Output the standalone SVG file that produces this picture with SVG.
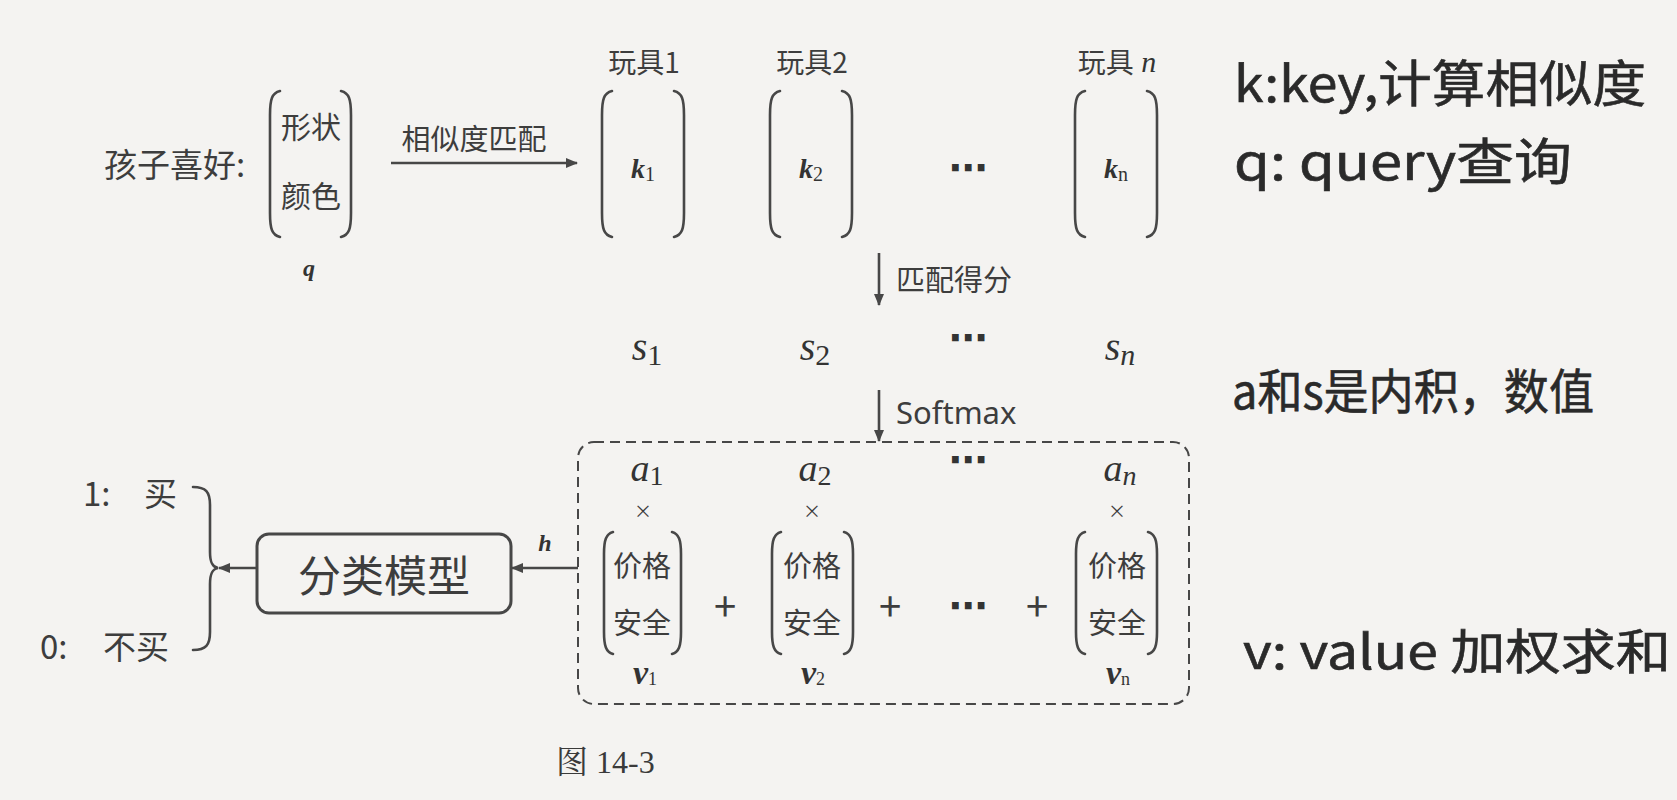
<svg xmlns="http://www.w3.org/2000/svg" width="1677" height="800" viewBox="0 0 1677 800">
<style>
.t{font-family:"Noto Sans CJK SC","Noto Sans",sans-serif;fill:#3d3d3d}
.m{font-family:"Liberation Serif",serif;font-style:italic;fill:#333}
.mb{font-family:"Liberation Serif",serif;font-style:italic;font-weight:bold;fill:#333}
.sub{font-style:normal;font-weight:normal}
.dots{font-family:"DejaVu Sans",sans-serif;fill:#333;font-weight:bold}
.br{fill:none;stroke:#474747;stroke-width:2.6;stroke-linecap:round}
.ln{fill:none;stroke:#474747;stroke-width:2.6}
.hw{font-family:"Noto Sans CJK SC",sans-serif;fill:#2a2a2a;stroke:#2a2a2a;stroke-width:0.6}
text{dominant-baseline:central}
</style>
<defs>
<marker id="ah" markerWidth="12" markerHeight="10" refX="11" refY="5" orient="auto" markerUnits="userSpaceOnUse">
<path d="M0,0 L12,5 L0,10 z" fill="#474747"/>
</marker>
</defs>
<rect width="1677" height="800" fill="#f4f3f1"/>

<g id="query">
<text class="t" x="104" y="163" font-size="33">孩子喜好:</text>
<path class="br" d="M280,91 C272,93 270,99 270,115 V213 C270,229 272,235 280,237"/>
<path class="br" d="M341,91 C349,93 351,99 351,115 V213 C351,229 349,235 341,237"/>
<text class="t" x="311" y="125" font-size="30" text-anchor="middle">形状</text>
<text class="t" x="311" y="194" font-size="30" text-anchor="middle">颜色</text>
<text class="mb" x="309" y="268" font-size="24" text-anchor="middle">q</text>
</g>

<g id="toy1">
<text class="t" x="644" y="61" font-size="28" text-anchor="middle">玩具1</text>
<path class="br" d="M612,91 C604,93 602,99 602,115 V213 C602,229 604,235 612,237"/>
<path class="br" d="M674,91 C682,93 684,99 684,115 V213 C684,229 682,235 674,237"/>
<text class="mb" x="643" y="168" font-size="28" text-anchor="middle">k<tspan class="sub" font-size="20" dy="6">1</tspan></text>
</g>
<g id="toy2">
<text class="t" x="812" y="61" font-size="28" text-anchor="middle">玩具2</text>
<path class="br" d="M780,91 C772,93 770,99 770,115 V213 C770,229 772,235 780,237"/>
<path class="br" d="M842,91 C850,93 852,99 852,115 V213 C852,229 850,235 842,237"/>
<text class="mb" x="811" y="168" font-size="28" text-anchor="middle">k<tspan class="sub" font-size="20" dy="6">2</tspan></text>
</g>
<text class="dots" x="968" y="168" font-size="38" text-anchor="middle">⋯</text>
<g id="toyn">
<text class="t" x="1117" y="61" font-size="28" text-anchor="middle">玩具<tspan class="m" font-size="30"> n</tspan></text>
<path class="br" d="M1085,91 C1077,93 1075,99 1075,115 V213 C1075,229 1077,235 1085,237"/>
<path class="br" d="M1147,91 C1155,93 1157,99 1157,115 V213 C1157,229 1155,235 1147,237"/>
<text class="mb" x="1116" y="168" font-size="28" text-anchor="middle">k<tspan class="sub" font-size="20" dy="6">n</tspan></text>
</g>

<g id="scores">
<text class="m" x="647" y="346" font-size="40" text-anchor="middle">s<tspan class="sub" font-size="30" dy="8">1</tspan></text>
<text class="m" x="815" y="346" font-size="40" text-anchor="middle">s<tspan class="sub" font-size="30" dy="8">2</tspan></text>
<text class="dots" x="968" y="338" font-size="38" text-anchor="middle">⋯</text>
<text class="m" x="1120" y="346" font-size="40" text-anchor="middle">s<tspan font-size="30" dy="8">n</tspan></text>
</g>

<g id="weighted">
<rect x="578" y="442" width="611" height="262" rx="16" fill="none" stroke="#474747" stroke-width="2" stroke-dasharray="10,6"/>
<text class="m" x="647" y="468" font-size="38" text-anchor="middle">a<tspan class="sub" font-size="28" dy="7">1</tspan></text>
<text class="m" x="815" y="468" font-size="38" text-anchor="middle">a<tspan class="sub" font-size="28" dy="7">2</tspan></text>
<text class="dots" x="968" y="460" font-size="38" text-anchor="middle">⋯</text>
<text class="m" x="1120" y="468" font-size="38" text-anchor="middle">a<tspan font-size="28" dy="7">n</tspan></text>
<text class="t" x="643" y="510" font-size="18" text-anchor="middle">×</text>
<text class="t" x="812" y="510" font-size="18" text-anchor="middle">×</text>
<text class="t" x="1117" y="510" font-size="18" text-anchor="middle">×</text>
<path class="br" d="M613,532 C606,534 604,540 604,554 V632 C604,646 606,652 613,654"/>
<path class="br" d="M672,532 C679,534 681,540 681,554 V632 C681,646 679,652 672,654"/>
<text class="t" x="642" y="564" font-size="29" text-anchor="middle">价格</text>
<text class="t" x="642" y="621" font-size="29" text-anchor="middle">安全</text>
<path class="br" d="M781,532 C774,534 772,540 772,554 V632 C772,646 774,652 781,654"/>
<path class="br" d="M844,532 C851,534 853,540 853,554 V632 C853,646 851,652 844,654"/>
<text class="t" x="812" y="564" font-size="29" text-anchor="middle">价格</text>
<text class="t" x="812" y="621" font-size="29" text-anchor="middle">安全</text>
<path class="br" d="M1085,532 C1078,534 1076,540 1076,554 V632 C1076,646 1078,652 1085,654"/>
<path class="br" d="M1148,532 C1155,534 1157,540 1157,554 V632 C1157,646 1155,652 1148,654"/>
<text class="t" x="1117" y="564" font-size="29" text-anchor="middle">价格</text>
<text class="t" x="1117" y="621" font-size="29" text-anchor="middle">安全</text>
<text class="t" x="725" y="604" font-size="40" text-anchor="middle">+</text>
<text class="t" x="890" y="604" font-size="40" text-anchor="middle">+</text>
<text class="dots" x="968" y="606" font-size="38" text-anchor="middle">⋯</text>
<text class="t" x="1037" y="604" font-size="40" text-anchor="middle">+</text>
<text class="mb" x="645" y="672" font-size="34" text-anchor="middle">v<tspan class="sub" font-size="18" dy="7">1</tspan></text>
<text class="mb" x="813" y="672" font-size="34" text-anchor="middle">v<tspan class="sub" font-size="18" dy="7">2</tspan></text>
<text class="mb" x="1118" y="672" font-size="34" text-anchor="middle">v<tspan class="sub" font-size="18" dy="7">n</tspan></text>
</g>

<g id="classifier">
<rect x="257" y="534" width="254" height="79" rx="12" fill="none" stroke="#474747" stroke-width="3"/>
<text class="t" x="384" y="573" font-size="43" text-anchor="middle">分类模型</text>
</g>

<g id="outputs">
<text class="t" font-size="33" y="492"><tspan x="83">1:</tspan><tspan x="144">买</tspan></text>
<text class="t" font-size="33" y="645"><tspan x="40">0:</tspan><tspan x="103">不买</tspan></text>
<path class="br" d="M193,487 C206,487 210,492 210,505 V552 C210,562 212,567 218,568 C212,569 210,574 210,584 V632 C210,645 206,650 193,650"/>
</g>

<g id="connectors">
<line class="ln" x1="391" y1="163" x2="577" y2="163" stroke-width="3" marker-end="url(#ah)"/>
<text class="t" x="474" y="137" font-size="29" text-anchor="middle">相似度匹配</text>
<line class="ln" x1="879" y1="253" x2="879" y2="305" marker-end="url(#ah)"/>
<text class="t" x="896" y="278" font-size="29">匹配得分</text>
<line class="ln" x1="879" y1="390" x2="879" y2="441" marker-end="url(#ah)"/>
<text x="896" y="412" font-size="31" font-family="'Noto Sans',sans-serif" fill="#3d3d3d">Softmax</text>
<line class="ln" x1="578" y1="568" x2="512" y2="568" stroke-width="3" marker-end="url(#ah)"/>
<text class="mb" x="545" y="543" font-size="24" text-anchor="middle">h</text>
<line class="ln" x1="257" y1="568" x2="219" y2="568" stroke-width="3" marker-end="url(#ah)"/>
</g>

<text x="556" y="762" font-size="32" font-family="'Liberation Serif','Noto Serif CJK SC','Noto Sans CJK SC',serif" fill="#3a3a3a">图 14-3</text>

<g id="notes">
<text class="hw" x="1234" y="80" font-size="50" textLength="412" lengthAdjust="spacingAndGlyphs">k:key,计算相似度</text>
<text class="hw" x="1234" y="158" font-size="50" textLength="338" lengthAdjust="spacingAndGlyphs">q: query查询</text>
<text class="hw" x="1232" y="388" font-size="48" textLength="362" lengthAdjust="spacingAndGlyphs">a和s是内积，数值</text>
<text class="hw" x="1243" y="648" font-size="48" textLength="428" lengthAdjust="spacingAndGlyphs">v: value 加权求和</text>
</g>
</svg>
